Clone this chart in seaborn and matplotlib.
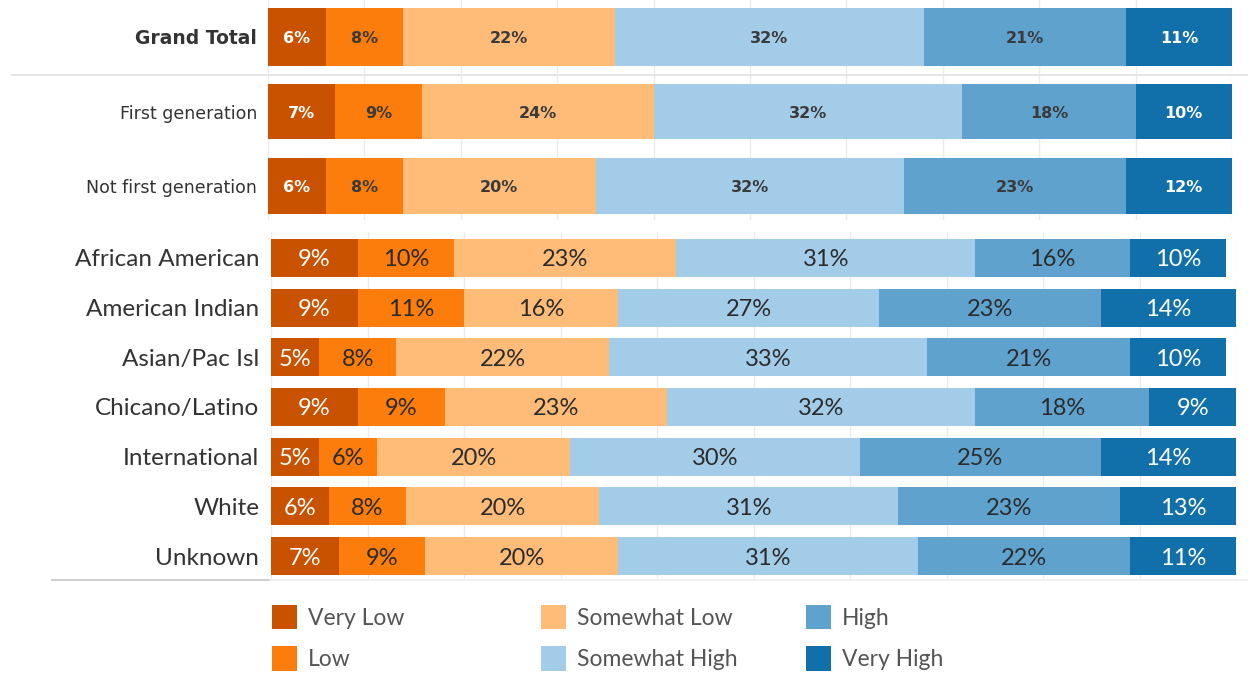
import matplotlib
matplotlib.use("Agg")
import matplotlib.pyplot as plt
from matplotlib.patches import Patch
from matplotlib.lines import Line2D
import pandas as pd
import seaborn as sns

# Response levels and their colours
levels = ["Very Low", "Low", "Somewhat Low", "Somewhat High", "High", "Very High"]
level_colors = ["#C85200", "#FC7D0B", "#FFBC79", "#A3CCE9", "#5FA2CE", "#1170AA"]
light_text_levels = ["Very Low", "Very High"]

# Overall
total_cats = ["Grand Total"]
total_vals = [[6, 8, 22, 32, 21, 11]]

# By generation status
gen_cats = ["First generation", "Not first generation"]
gen_vals = [
    [7, 9, 24, 32, 18, 10],
    [6, 8, 20, 32, 23, 12],
]

# By ethnicity
eth_cats = ["African American", "American Indian", "Asian/Pac Isl",
            "Chicano/Latino", "International", "White", "Unknown"]
eth_vals = [
    [9, 10, 23, 31, 16, 10],
    [9, 11, 16, 27, 23, 14],
    [5, 8, 22, 33, 21, 10],
    [9, 9, 23, 32, 18, 9],
    [5, 6, 20, 30, 25, 14],
    [6, 8, 20, 31, 23, 13],
    [7, 9, 20, 31, 22, 11],
]

sns.set_theme(style="white")
W, H = 1248, 673
fig = plt.figure(figsize=(W / 100, H / 100), dpi=100)
fig.patch.set_facecolor("white")


def add_ax(x0, y0, x1, y1):
    return fig.add_axes([x0 / W, 1 - y1 / H, (x1 - x0) / W, (y1 - y0) / H])


def long_table(cats, vals):
    rows = []
    for cat, row in zip(cats, vals):
        end = 0
        for lev, v in zip(levels, row):
            end += v
            rows.append({"cat": cat, "level": lev, "value": v, "end": end})
    return pd.DataFrame(rows)


def draw_block(ax, cats, vals, bar_width, ylim, label_font, label_size,
               label_weight, pct_font, pct_size, pct_weight, dark, pad):
    df = long_table(cats, vals)
    # cumulative bars drawn back to front give a stacked look
    for lev, col in reversed(list(zip(levels, level_colors))):
        sub = df[df["level"] == lev]
        sns.barplot(data=sub, x="end", y="cat", order=cats, color=col,
                    width=bar_width, saturation=1, errorbar=None,
                    linewidth=0, orient="h", ax=ax)
    idx = {c: i for i, c in enumerate(cats)}
    for _, r in df.iterrows():
        ax.text(r["end"] - r["value"] / 2, idx[r["cat"]], f"{r['value']}%",
                ha="center", va="center_baseline", fontsize=pct_size,
                family=pct_font, fontweight=pct_weight,
                color="white" if r["level"] in light_text_levels else dark)
    ax.set_xlim(0, 100)
    ax.set_ylim(*ylim)
    ax.set_xticks(range(0, 101, 10))
    ax.set_xticklabels([])
    ax.grid(axis="x", color="#ececec", linewidth=1)
    ax.grid(axis="y", visible=False)
    ax.set_axisbelow(True)
    ax.set_yticks(range(len(cats)))
    ax.set_yticklabels(cats, family=label_font, fontsize=label_size,
                       fontweight=label_weight, color="#333333")
    ax.tick_params(axis="both", length=0)
    ax.tick_params(axis="y", pad=pad)
    ax.set_xlabel("")
    ax.set_ylabel("")
    for s in ax.spines.values():
        s.set_visible(False)
    ax.patch.set_alpha(0)


ax_gt = add_ax(268, 0, 1232, 74)
draw_block(ax_gt, total_cats, total_vals, 0.8, (0.51, -0.51),
           "DejaVu Sans", 13.5, "bold", "DejaVu Sans", 11.5, "bold", "#3a3a3a", 8)

ax_gen = add_ax(268, 76, 1232, 220)
draw_block(ax_gen, gen_cats, gen_vals, 0.745, (1.456, -0.477),
           "DejaVu Sans", 12.5, "normal", "DejaVu Sans", 11.5, "bold", "#3a3a3a", 8)

ax_eth = add_ax(271, 232, 1236, 580)
draw_block(ax_eth, eth_cats, eth_vals, 0.765, (6.483, -0.523),
           "Lato", 17.5, "normal", "Lato", 17, "normal", "#2b2b2b", 8.5)

# Separators
fig.add_artist(Line2D([11 / W, 1], [1 - 74.5 / H] * 2, color="#e2e2e2",
                      linewidth=1.2, transform=fig.transFigure))
fig.add_artist(Line2D([52 / W, 270 / W], [1 - 580 / H] * 2, color="#cfcfcf",
                      linewidth=1.5, transform=fig.transFigure))
fig.add_artist(Line2D([270 / W, 1], [1 - 580 / H] * 2, color="#f0f0f0",
                      linewidth=1.2, transform=fig.transFigure))

# Legend in three fixed-width columns
leg_fs = 16.5
col_x = [272, 541, 806]
for c in range(3):
    handles = [Patch(facecolor=level_colors[2 * c + k], edgecolor="none",
                     label=levels[2 * c + k]) for k in range(2)]
    leg = fig.legend(handles=handles, loc="upper left",
                     bbox_to_anchor=(col_x[c] / W, 1 - 605 / H),
                     frameon=False, borderpad=0, borderaxespad=0,
                     handlelength=1.1, handleheight=1.25, handletextpad=0.45,
                     labelspacing=0.75, prop={"family": "Lato", "size": leg_fs})
    for t in leg.get_texts():
        t.set_color("#555555")

fig.savefig("out.png", dpi=100, facecolor="white")
